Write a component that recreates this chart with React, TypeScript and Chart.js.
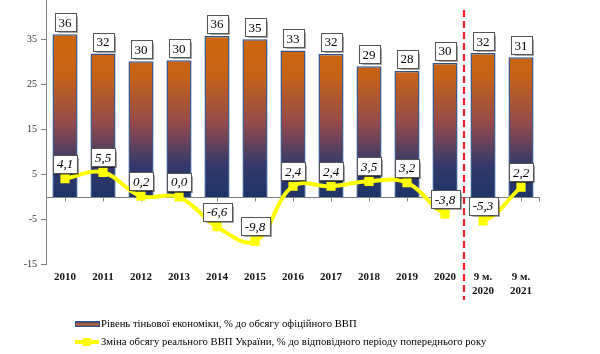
import React, { useEffect, useRef } from 'react';
import { Chart, registerables } from 'chart.js';

Chart.register(...registerables);

const CATEGORIES: (string | string[])[] = [
  '2010', '2011', '2012', '2013', '2014', '2015', '2016', '2017', '2018', '2019', '2020',
  ['9 м.', '2020'], ['9 м.', '2021'],
];
const SHADOW_ECONOMY = [36.2, 31.9, 30.2, 30.4, 35.8, 35.1, 32.6, 31.8, 29.1, 28.0, 29.8, 32.0, 31.1];
const GDP_CHANGE = [4.1, 5.5, 0.2, 0.0, -6.6, -9.8, 2.4, 2.4, 3.5, 3.2, -3.8, -5.3, 2.2];
const Y_TICKS = [-15, -5, 5, 15, 25, 35];
const Y_MIN = -15;
const Y_MAX = 43.8;
const BREAK_AFTER = 10;
const SERIES_NAMES = [
  'Рівень тіньової економіки, % до обсягу офіційного ВВП',
  'Зміна обсягу реального ВВП України, % до відповідного періоду попереднього року',
];

const SERIF = "'Liberation Serif', 'Times New Roman', serif";
const YELLOW = '#FFFF00';
const BAR_BORDER = '#34558A';

function drawBox(ctx: CanvasRenderingContext2D, text: string, cx: number, cy: number, font: string) {
  ctx.save();
  ctx.font = font;
  const w = Math.round(ctx.measureText(text).width + 8);
  const h = 18;
  const x = Math.round(cx - w / 2) + 0.5;
  const y = Math.round(cy - h / 2) + 0.5;
  ctx.save();
  ctx.shadowColor = 'rgba(0,0,0,0.35)';
  ctx.shadowOffsetX = 1;
  ctx.shadowOffsetY = 1;
  ctx.shadowBlur = 1;
  ctx.fillStyle = '#ffffff';
  ctx.fillRect(x, y, w, h);
  ctx.restore();
  ctx.strokeStyle = '#555555';
  ctx.lineWidth = 1;
  ctx.strokeRect(x, y, w, h);
  ctx.fillStyle = '#000000';
  ctx.textAlign = 'center';
  ctx.textBaseline = 'middle';
  ctx.fillText(text, cx, cy + 1);
  ctx.restore();
}

const overlayPlugin = {
  id: 'overlay',
  beforeDatasetsDraw(chart: any) {
    const { ctx, chartArea, scales } = chart;
    const xs = scales.x;
    const ys = scales.y;
    const y0 = Math.round(ys.getPixelForValue(0)) + 0.5;
    ctx.save();
    ctx.strokeStyle = '#808080';
    ctx.lineWidth = 1;
    ctx.beginPath();
    ctx.moveTo(chartArea.left, y0);
    ctx.lineTo(chartArea.right, y0);
    for (let i = 0; i < CATEGORIES.length; i++) {
      const px = Math.round(xs.getPixelForValue(i)) + 0.5;
      ctx.moveTo(px, y0);
      ctx.lineTo(px, y0 + 4);
    }
    ctx.moveTo(Math.round(chartArea.right) - 0.5, y0);
    ctx.lineTo(Math.round(chartArea.right) - 0.5, y0 + 4);
    ctx.stroke();
    ctx.restore();
  },
  afterDatasetsDraw(chart: any) {
    const { ctx, scales } = chart;
    const xs = scales.x;
    const sx = (xs.getPixelForValue(BREAK_AFTER) + xs.getPixelForValue(BREAK_AFTER + 1)) / 2;
    ctx.save();
    ctx.strokeStyle = '#F0202A';
    ctx.lineWidth = 2.2;
    ctx.setLineDash([7, 4]);
    ctx.beginPath();
    ctx.moveTo(sx, 10);
    ctx.lineTo(sx, 300);
    ctx.stroke();
    ctx.restore();

    const barMeta = chart.getDatasetMeta(0);
    barMeta.data.forEach((el: any, i: number) => {
      const text = String(Math.round(SHADOW_ECONOMY[i]));
      drawBox(ctx, text, el.x, el.y - 12, `13px ${SERIF}`);
    });
    const lineMeta = chart.getDatasetMeta(1);
    lineMeta.data.forEach((el: any, i: number) => {
      const text = GDP_CHANGE[i].toFixed(1).replace('.', ',');
      drawBox(ctx, text, el.x, el.y - 15, `italic 13px ${SERIF}`);
    });
  },
  afterDraw(chart: any) {
    const { ctx } = chart;
    ctx.save();
    const g = ctx.createLinearGradient(0, 322, 0, 327);
    g.addColorStop(0, '#3A4A80');
    g.addColorStop(0.5, '#C8622A');
    g.addColorStop(1, '#3A4A80');
    ctx.fillStyle = g;
    ctx.fillRect(75, 322, 24, 5);
    ctx.strokeStyle = BAR_BORDER;
    ctx.lineWidth = 1;
    ctx.strokeRect(75.5, 321.5, 24, 5);
    ctx.strokeStyle = YELLOW;
    ctx.lineWidth = 4;
    ctx.beginPath();
    ctx.moveTo(75, 342);
    ctx.lineTo(99, 342);
    ctx.stroke();
    ctx.fillStyle = YELLOW;
    ctx.fillRect(83, 338, 8, 8);
    ctx.fillStyle = '#000000';
    ctx.font = `10.7px ${SERIF}`;
    ctx.textAlign = 'left';
    ctx.textBaseline = 'middle';
    ctx.fillText(SERIES_NAMES[0], 101, 324.5);
    ctx.fillText(SERIES_NAMES[1], 101, 342.5);
    ctx.restore();
  },
};

export default function App() {
  const canvasRef = useRef<HTMLCanvasElement | null>(null);

  useEffect(() => {
    document.body.style.margin = '0';
    const canvas = canvasRef.current;
    if (!canvas) return;

    const barGradient = (ctx: any) => {
      const chart = ctx.chart;
      const { chartArea } = chart;
      if (!chartArea) return '#C8620A';
      const ys = chart.scales.y;
      const top = ys.getPixelForValue(36);
      const bottom = ys.getPixelForValue(0);
      const g = chart.ctx.createLinearGradient(0, top, 0, bottom);
      g.addColorStop(0, '#CE6708');
      g.addColorStop(0.25, '#C66218');
      g.addColorStop(0.55, '#914A4C');
      g.addColorStop(0.8, '#35396A');
      g.addColorStop(1, '#1E3468');
      return g;
    };

    const chart = new Chart(canvas, {
      data: {
        labels: CATEGORIES as any,
        datasets: [
          {
            type: 'bar',
            label: SERIES_NAMES[0],
            data: SHADOW_ECONOMY,
            backgroundColor: barGradient,
            borderColor: BAR_BORDER,
            borderWidth: 1.5,
            barPercentage: 0.66,
            categoryPercentage: 1,
            order: 1,
          },
          {
            type: 'line',
            label: SERIES_NAMES[1],
            data: GDP_CHANGE,
            borderColor: YELLOW,
            backgroundColor: YELLOW,
            borderWidth: 4,
            tension: 0.4,
            pointStyle: 'rect',
            pointRadius: 6.5,
            pointBackgroundColor: YELLOW,
            pointBorderColor: YELLOW,
            pointBorderWidth: 0,
            order: 0,
            segment: {
              borderColor: (c: any) => (c.p0DataIndex === BREAK_AFTER ? 'rgba(0,0,0,0)' : undefined),
            },
          } as any,
        ],
      },
      options: {
        responsive: false,
        animation: false,
        layout: { autoPadding: false, padding: { top: 0, right: 60, bottom: 49.5, left: 0 } },
        plugins: {
          legend: { display: false },
          tooltip: { enabled: false },
        },
        scales: {
          x: {
            type: 'category',
            offset: true,
            grid: { display: false, drawTicks: false },
            border: { display: false },
            ticks: {
              padding: 6,
              maxRotation: 0,
              autoSkip: false,
              color: '#111111',
              font: { family: SERIF, size: 11, weight: 'bold', lineHeight: 1.25 },
            },
            afterFit: (s: any) => {
              s.height = 40;
              s.paddingLeft = 0;
              s.paddingRight = 0;
            },
          },
          y: {
            type: 'linear',
            min: Y_MIN,
            max: Y_MAX,
            afterBuildTicks: (s: any) => {
              s.ticks = Y_TICKS.map((v) => ({ value: v }));
            },
            grid: { drawOnChartArea: false, drawTicks: true, tickLength: 5, color: '#808080' },
            border: { display: true, color: '#808080', width: 1 },
            ticks: {
              padding: 4,
              color: '#333333',
              font: { family: SERIF, size: 10 },
              callback: (v: any) => String(v),
            },
            afterFit: (s: any) => {
              s.width = 46;
              s.paddingTop = 0;
              s.paddingBottom = 0;
            },
          },
        },
      } as any,
      plugins: [overlayPlugin],
    });

    return () => chart.destroy();
  }, []);

  return (
    <div style={{ width: 600, height: 354, background: '#ffffff' }}>
      <canvas ref={canvasRef} width={600} height={354} style={{ display: 'block', width: 600, height: 354 }} />
    </div>
  );
}
